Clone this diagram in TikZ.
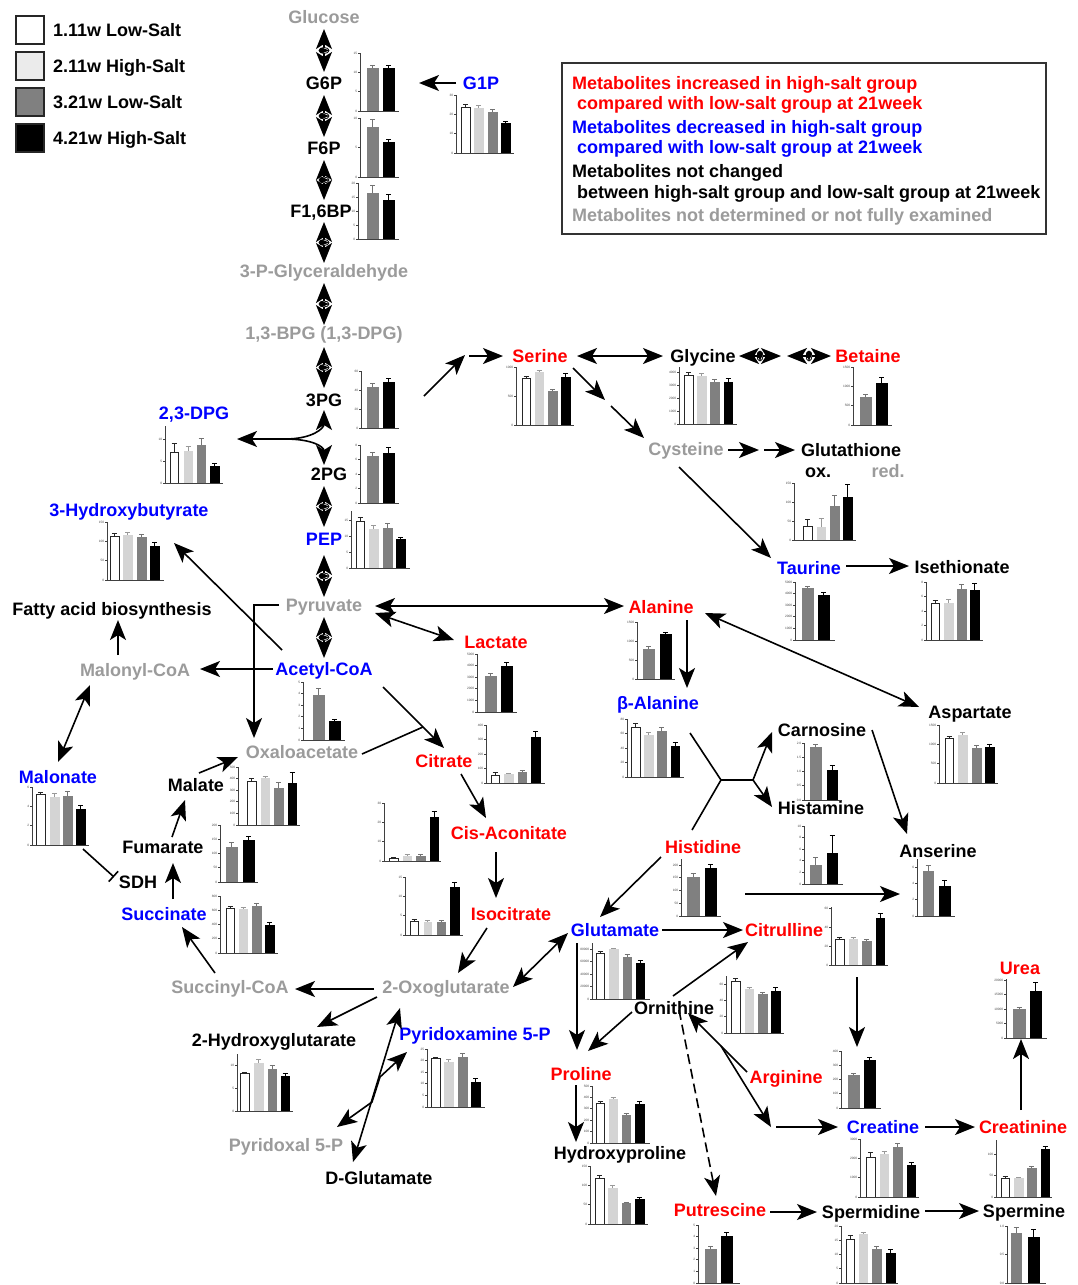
\documentclass[tikz,border=0pt]{standalone}
\usepackage{fontspec}
\setmainfont{Liberation Sans}
\usetikzlibrary{arrows.meta,shapes.geometric,calc}
\definecolor{myred}{RGB}{255,0,0}
\definecolor{myblue}{RGB}{0,0,255}
\definecolor{mygray}{RGB}{155,155,155}
\definecolor{fw}{gray}{1}\definecolor{lw}{gray}{0.15}\definecolor{ew}{gray}{0.15}
\definecolor{fl}{gray}{0.83}\definecolor{ll}{gray}{0.83}\definecolor{el}{gray}{0.6}
\definecolor{fg}{gray}{0.5}\definecolor{lg}{gray}{0.5}\definecolor{eg}{gray}{0.45}
\definecolor{fk}{gray}{0}\definecolor{lk}{gray}{0}\definecolor{ek}{gray}{0}

\newcommand\chart[7]{%
 \foreach \tl [count=\ti from 0] in {#5}{%
   \draw[axl] (#1,{#3-\ti*#6}) -- ++(-2,0) node[tklab]{\tl};}%
 \foreach \st/\xa/\xb/\yt/\ye in {#7}{%
   \edef\fc{f\st}\edef\lc{l\st}\edef\ec{e\st}%
   \pgfmathsetmacro\xm{(\xa+\xb)/2}%
   \filldraw[fill=\fc, draw=\lc, line width=0.7pt] (\xa,#3) rectangle (\xb,\yt);
   \draw[draw=\ec, line width=0.7pt] (\xm,\yt) -- (\xm,\ye) ({\xm-2.5},\ye) -- ({\xm+2.5},\ye);}%
 \draw[axl] (#1,#2) -- (#1,#3) -- (#4,#3);}

\begin{document}
\begin{tikzpicture}[x=1pt,y=-1pt,
  hd/.tip={Stealth[length=20pt,width=16pt,inset=5pt]},
  arr/.style={line width=1.6pt,-hd},
  darr/.style={line width=1.6pt,hd-hd},
  plain/.style={line width=1.6pt},
  axl/.style={line width=0.7pt,draw=black!75},
  tklab/.style={anchor=east,inner sep=0.4pt,font=\fontsize{3.2}{3.4}\selectfont,text=black!70},
  lab/.style={inner sep=0pt,text height=13pt,text depth=0pt,font=\bfseries\fontsize{18}{20}\selectfont},
  lblack/.style={lab,text=black},
  lred/.style={lab,text=myred},
  lblue/.style={lab,text=myblue},
  lgray/.style={lab,text=mygray},
  legsq/.style={draw=black!85,line width=2pt,minimum size=28pt,inner sep=0pt},
  rmv/.style={ellipse,draw=black,fill=white,line width=0.8pt,minimum width=10pt,minimum height=6pt,inner sep=0pt,
    path picture={\draw[line width=0.7pt] (path picture bounding box.west) -- (path picture bounding box.east);}},
  rmh/.style={ellipse,draw=black,fill=white,line width=0.8pt,minimum width=6pt,minimum height=10pt,inner sep=0pt,
    path picture={\draw[line width=0.7pt] (path picture bounding box.north) -- (path picture bounding box.south);
                  \draw[line width=0.7pt] (path picture bounding box.west) -- (path picture bounding box.east);}}
]
\useasboundingbox (0,0) rectangle (1078,1285);
\fill[white] (0,0) rectangle (1078,1285);

% ---------- legend ----------
\node[legsq,fill=white] (sq1) at (30,30) {};
\node[legsq,fill=black!8] (sq2) at (30,66) {};
\node[legsq,fill=black!50] (sq3) at (30,102) {};
\node[legsq,fill=black] (sq4) at (30,138) {};
\node[lblack,anchor=west] (lt1) at (53,30) {1.11w Low-Salt};
\node[lblack,anchor=west] (lt2) at (53,66) {2.11w High-Salt};
\node[lblack,anchor=west] (lt3) at (53,102) {3.21w Low-Salt};
\node[lblack,anchor=west] (lt4) at (53,138) {4.21w High-Salt};

\draw[line width=1.5pt,draw=black!80] (562,63) rectangle (1046,234);
\node[lred,anchor=west] (bx1) at (572,83) {Metabolites increased in high-salt group};
\node[lred,anchor=west] (bx2) at (577,103) {compared with low-salt group at 21week};
\node[lblue,anchor=west] (bx3) at (572,127) {Metabolites decreased in high-salt group};
\node[lblue,anchor=west] (bx4) at (577,147) {compared with low-salt group at 21week};
\node[lblack,anchor=west] (bx5) at (572,171) {Metabolites not changed};
\node[lblack,anchor=west] (bx6) at (577,192) {between high-salt group and low-salt group at 21week};
\node[lgray,anchor=west] (bx7) at (572,215) {Metabolites not determined or not fully examined};

% ---------- metabolite labels ----------
\node[lgray] (glc) at (324,17) {Glucose};
\node[lblack] (g6p) at (324,83) {G6P};
\node[lblack] (f6p) at (324,148) {F6P};
\node[lblack] (f16bp) at (321,211) {F1,6BP};
\node[lgray] (gap) at (324,271) {3-P-Glyceraldehyde};
\node[lgray] (bpg) at (324,333) {1,3-BPG (1,3-DPG)};
\node[lblack] (pg3) at (324,400) {3PG};
\node[lblack] (pg2) at (329,474) {2PG};
\node[lblue] (pep) at (324,539) {PEP};
\node[lgray] (pyr) at (324,605) {Pyruvate};
\node[lblue] (acoa) at (324,669) {Acetyl-CoA};
\node[lgray] (oaa) at (302,752) {Oxaloacetate};
\node[lblue] (g1p) at (481,83) {G1P};
\node[lred] (ser) at (540,356) {Serine};
\node[lblack] (gly) at (703,356) {Glycine};
\node[lred] (bet) at (868,356) {Betaine};
\node[lgray] (cys) at (686,449) {Cysteine};
\node[lblack] (gsh) at (851,450) {Glutathione};
\node[lblack] (ox) at (818,471) {ox.};
\node[lgray] (rd) at (888,471) {red.};
\node[lblue] (tau) at (809,568) {Taurine};
\node[lblack] (ise) at (962,567) {Isethionate};
\node[lred] (ala) at (661,607) {Alanine};
\node[lred] (lac) at (496,642) {Lactate};
\node[lgray] (mcoa) at (135,670) {Malonyl-CoA};
\node[lblack] (fatty) at (112,609) {Fatty acid biosynthesis};
\node[lblue] (hb3) at (129,510) {3-Hydroxybutyrate};
\node[lblue] (dpg) at (194,413) {2,3-DPG};
\node[lred] (cit) at (444,761) {Citrate};
\node[lred] (cis) at (509,833) {Cis-Aconitate};
\node[lred] (iso) at (511,914) {Isocitrate};
\node[lblue] (mln) at (58,777) {Malonate};
\node[lblack] (sdh) at (138,882) {SDH};
\node[lblue] (suc) at (164,914) {Succinate};
\node[lblack] (fum) at (163,847) {Fumarate};
\node[lblack] (mal) at (196,785) {Malate};
\node[lgray] (scoa) at (230,987) {Succinyl-CoA};
\node[lgray] (oxo) at (446,987) {2-Oxoglutarate};
\node[lblack] (hg) at (274,1040) {2-Hydroxyglutarate};
\node[lblue] (pxm) at (475,1034) {Pyridoxamine 5-P};
\node[lgray] (pxl) at (286,1145) {Pyridoxal 5-P};
\node[lblack] (dglu) at (379,1178) {D-Glutamate};
\node[lblue] (bala) at (658,703) {β-Alanine};
\node[lblack] (asp) at (970,712) {Aspartate};
\node[lblack] (car) at (822,730) {Carnosine};
\node[lblack] (hsm) at (821,808) {Histamine};
\node[lblack] (ans) at (938,851) {Anserine};
\node[lred] (his) at (703,847) {Histidine};
\node[lblue] (glu) at (615,930) {Glutamate};
\node[lred] (citr) at (784,930) {Citrulline};
\node[lblack] (orn) at (674,1008) {Ornithine};
\node[lred] (pro) at (581,1074) {Proline};
\node[lblack] (hyp) at (620,1153) {Hydroxyproline};
\node[lred] (arg) at (786,1077) {Arginine};
\node[lblue] (crt) at (883,1127) {Creatine};
\node[lred] (crn) at (1023,1127) {Creatinine};
\node[lred] (urea) at (1020,968) {Urea};
\node[lred] (put) at (720,1210) {Putrescine};
\node[lblack] (spd) at (871,1212) {Spermidine};
\node[lblack] (spm) at (1024,1211) {Spermine};

% ---------- bar charts ----------
\chart{360}{53}{111}{399}{0,5,10,15}{19.33}{g/367/378/68/65,k/383/394/68/65}
\chart{360}{118}{177}{399}{0,5,10}{29.5}{g/367/378/127/119,k/383/394/142/139}
\chart{358}{183}{239}{399}{0,5,10,15,20}{14}{g/367/378/193/185,k/383/394/200/194}
\chart{456}{95}{153}{514}{0,10,20,30}{19.33}{w/461/470/107/104,l/474/483/108/105,g/488/497/112/109,k/501/510/123/121}
\chart{361}{371}{428}{399}{0,20,40,60}{19}{g/367/378/387/383,k/383/394/382/378}
\chart{360}{445}{503}{399}{0,2,4,6,8}{14.5}{g/367/378/456/452,k/383/394/453/447}
\chart{351}{511}{568}{410}{0,5,10,15}{16}{w/356/364/521/517,l/369/378/529/525,g/383/392/528/523,k/396/405/539/537}
\chart{165}{426}{483}{223}{0,5,10}{22}{w/170/178/452/443,l/184/192/451/446,g/197/205/445/438,k/210/219/466/463}
\chart{107}{522}{580}{164}{0,50,100,150}{19.33}{w/110/119/536/533,l/123/132/535/532,g/137/146/537/534,k/150/159/546/542}
\chart{516}{367}{425}{574}{0,500,1000}{29}{w/522/530/378/376,l/535/543/372/370,g/548/557/391/389,k/561/570/377/373}
\chart{679}{367}{424}{737}{0,1000,2000,3000,4000}{13}{w/684/693/375/372,l/697/706/376/373,g/710/719/382/379,k/724/732/382/378}
\chart{853}{367}{425}{892}{0,500,1000,1500}{19.33}{g/860/871/397/394,k/876/887/383/377}
\chart{794}{483}{540}{856}{0,50,100,150}{19}{w/803/812/526/519,l/817/825/527/518,g/830/839/506/495,k/843/852/497/484}
\chart{795}{582}{640}{835}{0,1000,2000,3000,4000,5000}{11.6}{g/802/813/588/586,k/818/829/595/592}
\chart{926}{582}{640}{983}{0,2,4,6,8}{14.5}{w/931/939/603/600,l/944/953/603/599,g/957/966/589/584,k/970/979/590/583}
\chart{637}{622}{679}{675}{0,500,1000,1500}{19}{g/643/654/649/646,k/660/671/634/632}
\chart{477}{654}{712}{517}{0,1000,2000,3000,4000,5000}{11.6}{g/485/496/676/673,k/501/512/666/662}
\chart{303}{682}{740}{345}{0,1,2,3,4,5}{11.6}{g/313/324/695/688,k/329/340/721/719}
\chart{486}{725}{783}{545}{0,100,200,300,400}{14.5}{w/491/499/775/772,l/504/513/774/773,g/518/526/772/770,k/531/540/737/731}
\chart{384}{803}{861}{441}{0,10,20,30}{19.33}{w/389/398/858/857,l/403/411/856/854,g/416/425/856/854,k/430/438/817/811}
\chart{405}{877}{935}{463}{0,5,10,15}{19.33}{w/410/418/921/919,l/424/431/922/920,g/437/445/922/920,k/450/459/887/882}
\chart{32}{787}{845}{89}{0,2,4,6}{19.33}{w/36/45/794/792,l/50/59/797/793,g/63/72/796/791,k/76/85/809/805}
\chart{238}{767}{825}{300}{0,100,200,300,400,500}{11.6}{w/247/256/781/778,l/261/269/778/776,g/274/283/788/782,k/288/296/783/772}
\chart{220}{825}{882}{258}{0,50,100,150,200}{14.25}{g/226/237/847/842,k/243/254/840/836}
\chart{220}{896}{953}{278}{0,200,400,600,800}{14.25}{w/226/234/908/906,l/239/247/909/907,g/252/261/906/903,k/265/274/925/922}
\chart{627}{719}{777}{684}{0,20,40,60,80}{14.5}{w/631/640/727/723,l/644/653/735/732,g/657/666/731/727,k/671/679/746/742}
\chart{939}{725}{783}{998}{0,500,1000,1500}{19.33}{w/945/953/738/736,l/958/967/735/732,g/972/981/748/745,k/985/994/747/744}
\chart{804}{743}{800}{842}{0.0,0.5,1.0,1.5,2.0}{14.25}{g/810/821/747/744,k/827/837/770/765}
\chart{804}{826}{884}{843}{0,2,4,6,8,10}{11.6}{g/810/821/865/857,k/827/837/853/835}
\chart{917}{859}{916}{955}{0,2,4,6}{16.3}{g/923/933/871/865,k/939/950/886/880}
\chart{681}{859}{916}{721}{0,50,100,150,200}{12.75}{g/687/699/877/873,k/705/716/868/864}
\chart{592}{943}{999}{650}{0,20000,40000,60000,80000}{12.5}{w/596/604/953/951,l/609/618/949/948,g/623/631/957/954,k/636/644/963/960}
\chart{831}{907}{965}{888}{0,20,40,60}{19}{w/835/844/939/937,l/849/857/939/937,g/862/871/941/939,k/876/884/918/913}
\chart{726}{976}{1033}{784}{0,20,40,60}{16.3}{w/731/740/981/978,l/745/753/989/987,g/758/767/994/992,k/771/780/991/987}
\chart{841}{1051}{1108}{881}{0,100,200,300,400}{14.25}{g/848/859/1075/1073,k/864/875/1060/1057}
\chart{592}{1086}{1143}{650}{0,100,200,300,400,500}{11.4}{w/596/604/1103/1101,l/609/617/1099/1097,g/622/630/1115/1113,k/635/644/1104/1101}
\chart{590}{1166}{1224}{648}{0,50,100,150}{19.33}{w/595/604/1178/1175,l/608/617/1188/1185,g/622/630/1203/1202,k/635/644/1199/1197}
\chart{1006}{979}{1038}{1047}{0,5000,10000,15000,20000}{14.5}{g/1013/1025/1009/1007,k/1030/1041/991/982}
\chart{860}{1139}{1197}{919}{0,1000,2000,3000}{19.33}{w/866/875/1157/1152,l/880/888/1154/1151,g/893/902/1147/1143,k/907/915/1165/1162}
\chart{996}{1140}{1197}{1052}{0,50,100}{21.5}{w/1001/1009/1178/1176,l/1014/1023/1178/1177,g/1027/1036/1168/1166,k/1041/1049/1149/1146}
\chart{698}{1225}{1283}{740}{0,1,2,3,4,5}{11.6}{g/705/716/1249/1246,k/721/732/1236/1232}
\chart{841}{1226}{1283}{898}{0,5,10,15,20}{14.25}{w/846/854/1239/1235,l/859/867/1234/1232,g/872/881/1249/1246,k/886/895/1253/1249}
\chart{1007}{1226}{1283}{1046}{0.0,0.5,1.0}{28.5}{g/1011/1021/1233/1227,k/1028/1039/1237/1229}
\chart{237}{1054}{1111}{293}{0,5,10}{23}{w/240/249/1073/1072,l/254/263/1063/1059,g/268/276/1069/1065,k/281/289/1076/1073}
\chart{427}{1049}{1107}{485}{0,5,10,15,20,25}{11.6}{w/431/440/1058/1057,l/444/453/1062/1059,g/458/467/1057/1053,k/471/480/1082/1078}

% ---------- connectors ----------
% glycolysis (reversible)
\draw[darr] ($(glc)+(0,12)$) -- ($(g6p)+(0,-11)$) node[midway,rmv]{};
\draw[darr] ($(g6p)+(0,12)$) -- ($(f6p)+(0,-11)$) node[midway,rmv]{};
\draw[darr] ($(f6p)+(0,12)$) -- ($(f16bp)+(3,-11)$) node[midway,rmv]{};
\draw[darr] ($(f16bp)+(3,11)$) -- ($(gap)+(0,-8)$) node[midway,rmv]{};
\draw[darr] ($(gap)+(0,12)$) -- ($(bpg)+(0,-8)$) node[midway,rmv]{};
\draw[darr] ($(bpg)+(0,14)$) -- ($(pg3)+(0,-12)$) node[midway,rmv]{};
\draw[darr] ($(pg2)+(-5,12)$) -- ($(pep)+(0,-12)$) node[midway,rmv]{};
\draw[darr] ($(pep)+(0,16)$) -- ($(pyr)+(0,-8)$) node[midway,rmv]{};
\draw[darr] ($(pyr)+(0,12)$) -- ($(acoa)+(0,-11)$) node[midway,rmv]{};
% 3PG / 2PG / 2,3-DPG
\coordinate (j23) at (285,439);
\draw[arr] (j23) .. controls +(28,0) and +(0,18) .. ($(pg3)+(0,10)$);
\draw[arr] (j23) .. controls +(28,0) and +(0,-18) .. ($(pg2)+(-5,-9)$);
\draw[arr] (j23) -- ($(dpg)+(43,26)$);
% G1P
\draw[arr] ($(g1p)+(-25,0)$) -- ($(g6p)+(95,0)$);
% serine branch
\draw[arr] ($(pg3)+(100,-4)$) -- ($(ser)+(-75,-1)$);
\draw[arr] ($(ser)+(-71,0)$) -- ($(ser)+(-37,0)$);
\draw[darr] ($(ser)+(37,0)$) -- ($(gly)+(-40,0)$);
\draw[darr] ($(gly)+(36,0)$) -- ($(bet)+(-87,0)$) node[midway,rmh]{};
\draw[darr] ($(bet)+(-81,0)$) -- ($(bet)+(-37,0)$) node[midway,rmh]{};
\draw[arr] ($(ser)+(33,12)$) -- ($(cys)+(-81,-49)$);
\draw[arr] ($(cys)+(-75,-43)$) -- ($(cys)+(-42,-11)$);
\draw[arr] ($(cys)+(42,1)$) -- ($(gsh)+(-92,0)$);
\draw[arr] ($(gsh)+(-87,0)$) -- ($(gsh)+(-56,0)$);
\draw[arr] ($(cys)+(-7,18)$) -- ($(tau)+(-38,-10)$);
\draw[arr] ($(tau)+(37,-2)$) -- ($(ise)+(-53,-1)$);
% pyruvate
\draw[darr] ($(pyr)+(51,1)$) -- ($(ala)+(-37,-1)$);
\draw[darr] ($(pyr)+(51,8)$) -- ($(lac)+(-42,-2)$);
\draw[arr] ($(pyr)+(-45,0)$) -| ($(oaa)+(-48,-14)$);
% acetyl-CoA
\draw[arr] ($(acoa)+(-51,0)$) -- ($(mcoa)+(65,-1)$);
\draw[arr] ($(mcoa)+(-17,-15)$) -- ($(fatty)+(6,11)$);
\draw[arr] ($(acoa)+(-42,-19)$) -- ($(hb3)+(45,33)$);
\draw[arr] ($(acoa)+(59,18)$) -- ($(cit)+(0,-13)$);
\coordinate (joc) at (423,727);
\draw[plain] ($(oaa)+(60,2)$) -- (joc);
% TCA
\draw[arr] ($(cit)+(17,13)$) -- ($(cis)+(-23,-15)$);
\draw[arr] ($(cis)+(-13,19)$) -- ($(iso)+(-15,-16)$);
\draw[arr] ($(iso)+(-24,14)$) -- ($(oxo)+(12,-14)$);
\draw[darr] ($(mcoa)+(-45,15)$) -- ($(mln)+(0,-15)$);
\draw[line width=1.6pt,-{Bar[width=14pt,line width=1.6pt]}] ($(mln)+(25,72)$) -- ($(sdh)+(-24,-5)$);
\draw[arr] ($(suc)+(9,-15)$) -- ($(fum)+(10,16)$);
\draw[arr] ($(fum)+(9,-10)$) -- ($(mal)+(-11,15)$);
\draw[arr] ($(mal)+(3,-12)$) -- ($(oaa)+(-64,5)$);
\draw[arr] ($(scoa)+(-15,-14)$) -- ($(suc)+(18,13)$);
\draw[arr] ($(oxo)+(-72,2)$) -- ($(scoa)+(65,2)$);
\draw[arr] ($(oxo)+(-69,10)$) -- ($(hg)+(43,-13)$);
\draw[darr] ($(oxo)+(67,0)$) -- ($(glu)+(-47,3)$);
% pyridoxal / D-glutamate
\draw[darr] ($(dglu)+(-26,-16)$) -- ($(oxo)+(-46,21)$);
\coordinate (jp1) at (372,1102);
\coordinate (jp2) at (380,1077);
\draw[darr] ($(pxl)+(51,-18)$) -- (jp1) -- (jp2) -- ($(pxm)+(-68,18)$);
% alanine / histidine
\draw[arr] ($(ala)+(26,13)$) -- ($(bala)+(29,-15)$);
\draw[darr] ($(ala)+(44,6)$) -- ($(asp)+(-51,-5)$);
\coordinate (jb) at (721,780);
\coordinate (jc) at (753,780);
\draw[plain] ($(bala)+(32,30)$) -- (jb) -- ($(his)+(-11,-17)$);
\draw[plain] (jb) -- (jc);
\draw[arr] (jc) -- ($(car)+(-50,2)$);
\draw[arr] (jc) -- ($(hsm)+(-49,-1)$);
\draw[arr] ($(car)+(50,0)$) -- ($(ans)+(-31,-17)$);
\draw[arr] ($(his)+(42,47)$) -- ($(ans)+(-38,43)$);
\draw[arr] ($(his)+(-42,10)$) -- ($(glu)+(-15,-13)$);
% urea cycle etc.
\draw[arr] ($(glu)+(47,0)$) -- ($(citr)+(-41,0)$);
\draw[arr] ($(orn)+(-1,-12)$) -- ($(citr)+(-36,12)$);
\draw[arr] ($(glu)+(-38,13)$) -- ($(pro)+(-4,-24)$);
\draw[arr] ($(orn)+(-42,4)$) -- ($(pro)+(7,-23)$);
\draw[arr] ($(pro)+(-5,11)$) -- ($(hyp)+(-44,-11)$);
\draw[arr] ($(arg)+(-39,-5)$) -- ($(orn)+(14,5)$);
\coordinate (jr) at (721,1046);
\draw[arr] (jr) -- ($(crt)+(-112,0)$);
\draw[arr] ($(crt)+(-107,0)$) -- ($(crt)+(-45,0)$);
\draw[arr] ($(crt)+(42,0)$) -- ($(crn)+(-48,0)$);
\draw[arr] ($(crn)+(-2,-17)$) -- ($(urea)+(1,71)$);
\draw[arr] ($(citr)+(73,47)$) -- ($(arg)+(71,-30)$);
\draw[arr,dash pattern=on 10pt off 5pt] ($(orn)+(5,2)$) -- ($(put)+(-4,-14)$);
\draw[arr] ($(put)+(50,2)$) -- ($(spd)+(-54,0)$);
\draw[arr] ($(spd)+(54,-1)$) -- ($(spm)+(-45,0)$);
\end{tikzpicture}
\end{document}
